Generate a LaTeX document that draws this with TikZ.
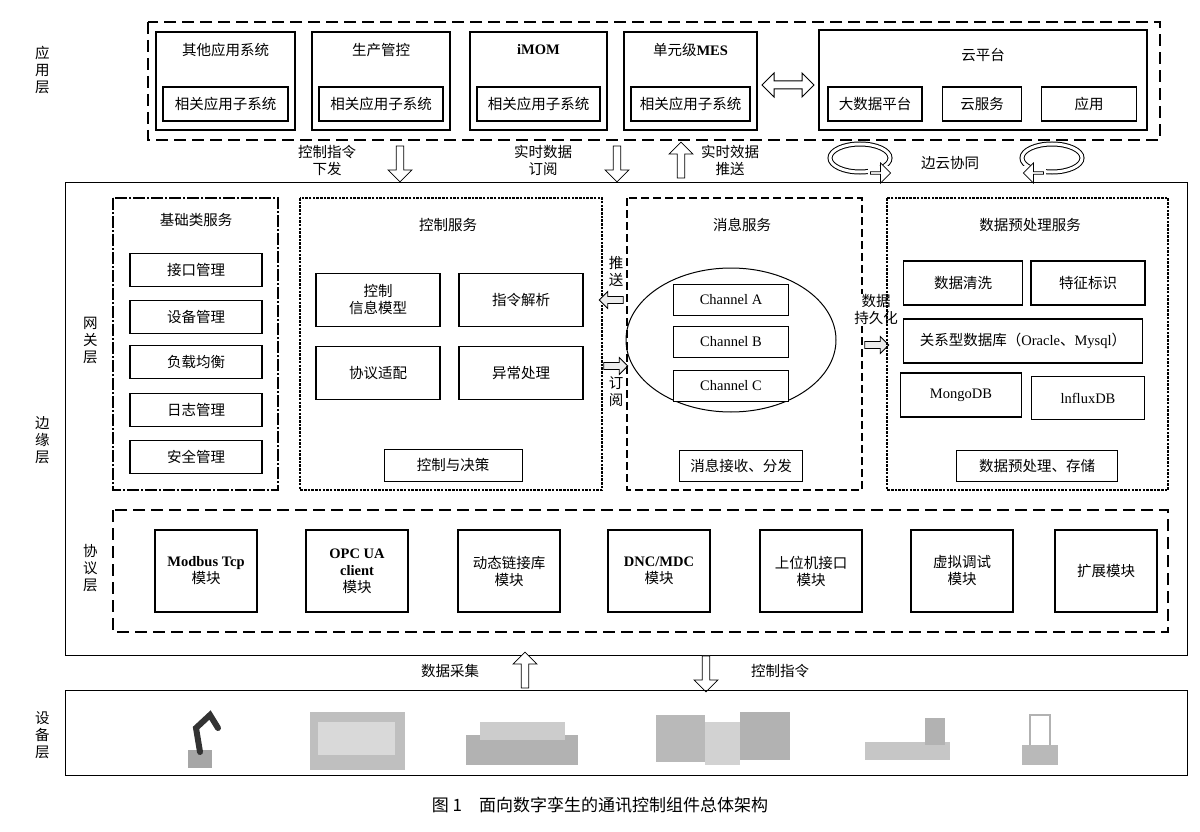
\documentclass[tikz,border=0pt]{standalone}
\usepackage{fontspec}
\setmainfont{Noto Sans CJK SC}
\newfontfamily\lat{Liberation Serif}
\newcommand{\fsz}{\fontsize{14.5}{17}\selectfont}
\usetikzlibrary{shapes.arrows,shapes.geometric,arrows.meta}
\tikzset{
 bx/.style={draw,line width=0.6pt,fill=white,align=center,font=\fsz},
 bbx/.style={draw,line width=1.6pt,fill=white,align=center,font=\fsz},
 grp/.style={draw,line width=1.4pt,dash pattern=on 12pt off 6pt},
 dgrp/.style={draw,line width=2.5pt,dash pattern=on 2.5pt off 1.2pt},
 lbl/.style={font=\fsz,align=center,inner sep=1pt},
 vlbl/.style={font=\fsz,align=center,text width=1em,inner sep=0pt},
 harr/.style={single arrow,draw,line width=0.8pt,fill=white,minimum height=36pt,minimum width=24pt,single arrow head extend=3pt,inner sep=1pt},
 sarr/.style={single arrow,draw,line width=0.8pt,fill=gray!15,minimum height=24pt,minimum width=17pt,single arrow head extend=2pt,inner sep=1pt},
}
\begin{document}
\begin{tikzpicture}[x=1pt,y=-1pt]
\useasboundingbox (0,0) rectangle (1200,832);
% layer labels
\node[vlbl] (l1) at (40,70) {应\\用\\层};
\node[vlbl] (l2) at (40,440) {边\\缘\\层};
\node[vlbl] (l3) at (88,340) {网\\关\\层};
\node[vlbl] (l4) at (88,568) {协\\议\\层};
\node[vlbl] (l5) at (40,735) {设\\备\\层};
% application layer
\draw[grp] (148,22) rectangle (1160,140);
\foreach \a/\b/\t/\n in {156/295/其他应用系统/q,312/450/生产管控/s,470/607/{\lat\bfseries iMOM}/i,624/757/单元级{\lat\bfseries MES}/m}{
 \draw[line width=1.2pt] (\a,32) rectangle (\b,130);
 \node[lbl] (t\n) at ({(\a+\b)/2},50) {\t};
 \node[bx,line width=1.2pt,minimum width=(\b-\a-14)*1pt,minimum height=34pt] (r\n) at ({(\a+\b)/2},104) {相关应用子系统};
}
\draw[line width=1.2pt] (819,30) rectangle (1147,130);
\node[lbl] (yun) at (983,55) {云平台};
\node[bx,line width=1.2pt,minimum width=94pt,minimum height=34pt] (dsj) at (875,104) {大数据平台};
\node[bx,line width=1.2pt,minimum width=79pt,minimum height=34pt] (yfw) at (982,104) {云服务};
\node[bx,line width=1.2pt,minimum width=95pt,minimum height=34pt] (yy) at (1089,104) {应用};
\node[double arrow,draw,line width=1pt,minimum height=52pt,minimum width=24pt,inner sep=1pt,double arrow head extend=3pt] (da) at (788,85) {};
% arrows between app and edge
\node[harr,rotate=-90] (a1) at (400,162) {};
\node[lbl] (a1t) at (327,160) {控制指令\\下发};
\node[harr,rotate=-90] (a2) at (617,162) {};
\node[lbl] (a2t) at (543,160) {实时数据\\订阅};
\node[harr,rotate=90] (a3) at (681,162) {};
\node[lbl] (a3t) at (730,160) {实时效据\\推送};
\node[lbl] (byxt) at (950,163) {边云协同};
\foreach \cx in {860,1052}{
 \draw[line width=5pt] (\cx,158) ellipse (30pt and 14pt);
 \draw[line width=3pt,white] (\cx,158) ellipse (30pt and 14pt);
}
\fill[white] (868,166) rectangle (894,185);
\fill[white] (1020,166) rectangle (1046,185);
\node[single arrow,draw,line width=0.8pt,fill=white,minimum height=20pt,minimum width=20pt,inner sep=0pt,single arrow head extend=3pt] (c1) at (880,173) {};
\node[single arrow,draw,line width=0.8pt,fill=white,minimum height=20pt,minimum width=20pt,inner sep=0pt,single arrow head extend=3pt,rotate=180] (c2) at (1034,173) {};
% edge layer
\draw[line width=1pt] (65,183) rectangle (1187,655);
% basic services
\draw[line width=2pt,dash pattern=on 12pt off 2pt on 2pt off 2pt] (113,198) rectangle (278,490);
\node[lbl] (jc) at (196,220) {基础类服务};
\foreach \y/\t/\n in {270/接口管理/b1,317/设备管理/b2,362/负载均衡/b3,410/日志管理/b4,457/安全管理/b5}
 \node[bbx,minimum width=132pt,minimum height=33pt] (\n) at (196,\y) {\t};
% control services
\draw[dgrp] (300,198) rectangle (602,490);
\node[lbl] (kz) at (448,225) {控制服务};
\node[bbx,minimum width=124pt,minimum height=53pt] (k1) at (378,300) {控制\\信息模型};
\node[bbx,minimum width=124pt,minimum height=53pt] (k2) at (521,300) {指令解析};
\node[bbx,minimum width=124pt,minimum height=53pt] (k3) at (378,373) {协议适配};
\node[bbx,minimum width=124pt,minimum height=53pt] (k4) at (521,373) {异常处理};
\node[bx,line width=1pt,minimum width=138pt,minimum height=32pt] (k5) at (453,465) {控制与决策};
% push/subscribe
\node[lbl,fill=white] (ts) at (616,272) {推\\送};
\node[sarr,rotate=180] (pa) at (613,300) {};
\node[lbl,fill=white] (dy) at (616,392) {订\\阅};
\node[sarr] (pb) at (614,366) {};
% message service
\draw[grp,dash pattern=on 8pt off 4pt,line width=1.6pt] (627,198) rectangle (862,490);
\node[lbl] (xx) at (742,225) {消息服务};
\draw[line width=1pt] (731,340) ellipse (105pt and 72pt);
\foreach \y/\t/\n in {300/A/ca,342/B/cb,386/C/cc}
 \node[bx,line width=1pt,minimum width=115pt,minimum height=31pt,font=\fsz\lat] (\n) at (731,\y) {Channel \t};
\node[bx,line width=1pt,minimum width=123pt,minimum height=31pt] (xs) at (741,466) {消息接收、分发};
% persistence
\node[lbl,fill=white] (cjh) at (876,310) {数据\\持久化};
\node[sarr] (pc) at (875,345) {};
% data preprocessing
\draw[dgrp] (887,198) rectangle (1168,490);
\node[lbl] (yc) at (1030,225) {数据预处理服务};
\node[bbx,minimum width=119pt,minimum height=44pt] (d1) at (963,283) {数据清洗};
\node[bbx,minimum width=114pt,minimum height=44pt] (d2) at (1088,283) {特征标识};
\node[bx,line width=1.2pt,minimum width=239pt,minimum height=44pt] (d3) at (1023,341) {关系型数据库（{\lat Oracle}、{\lat Mysql}）};
\node[bbx,minimum width=121pt,minimum height=44pt,font=\fsz\lat] (d4) at (961,395) {MongoDB};
\node[bbx,minimum width=113pt,minimum height=43pt,font=\fsz\lat] (d5) at (1088,398) {lnfluxDB};
\node[bx,line width=1pt,minimum width=161pt,minimum height=31pt] (d6) at (1037,466) {数据预处理、存储};
% protocol layer
\draw[grp,line width=2pt] (113,510) rectangle (1168,632);
\foreach \x/\t/\n in {206/{{\lat\bfseries Modbus Tcp}\\模块}/p1,357/{{\lat\bfseries OPC UA}\\{\lat\bfseries client}\\模块}/p2,509/{动态链接库\\模块}/p3,659/{{\lat\bfseries DNC/MDC}\\模块}/p4,811/{上位机接口\\模块}/p5,962/{虚拟调试\\模块}/p6,1106/扩展模块/p7}
 \node[draw,line width=1.4pt,align=center,font=\fsz,minimum width=102pt,minimum height=82pt] (\n) at (\x,571) {\t};
% arrows edge/device
\node[harr,rotate=90] (e1) at (525,672) {};
\node[lbl] (e1t) at (450,671) {数据采集};
\node[harr,rotate=-90] (e2) at (706,672) {};
\node[lbl] (e2t) at (780,671) {控制指令};
% device layer
\draw[line width=1pt] (65,690) rectangle (1187,775);
% device pictures (simplified)
\fill[gray!70] (188,768) rectangle (212,750);
\draw[gray!40!black,line width=6pt,line cap=round] (200,752) -- (196,728) -- (210,715) -- (218,728);
\fill[gray!50] (310,712) rectangle (405,770);
\fill[gray!30] (318,722) rectangle (395,755);
\fill[gray!60] (466,735) rectangle (578,765);
\fill[gray!40] (480,722) rectangle (565,740);
\fill[gray!55] (656,715) rectangle (705,762);
\fill[gray!35] (705,722) rectangle (740,765);
\fill[gray!60] (740,712) rectangle (790,760);
\fill[gray!45] (865,742) rectangle (950,760);
\fill[gray!60] (925,718) rectangle (945,745);
\fill[gray!55] (1022,745) rectangle (1058,765);
\draw[gray!60,line width=2pt] (1030,745) -- (1030,715) -- (1050,715) -- (1050,745);
% caption
\node[font=\fontsize{17}{20}\selectfont] (cap) at (600,805) {图 1\quad 面向数字孪生的通讯控制组件总体架构};
\end{tikzpicture}
\end{document}
